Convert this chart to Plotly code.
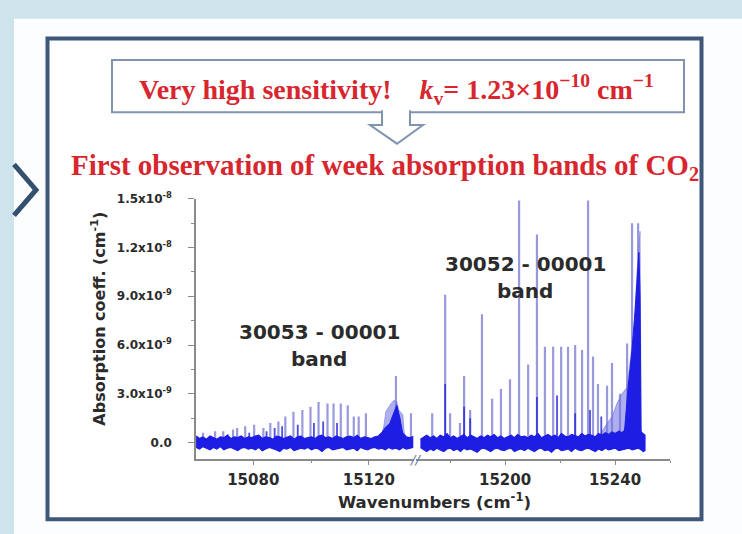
import plotly.graph_objects as go

W, H = 742, 534
SCALE = 1e-9  # spectrum values below are in units of 1e-9 cm^-1

# ---------------- spectrum data (wavenumber in cm^-1, value in 1e-9 cm^-1) ----------------
# 30053 - 00001 band (left segment)
left_peak_wn = [15062.6, 15066.8, 15069.6, 15073.0, 15074.4, 15077.2, 15080.3, 15083.5,
                15085.9, 15088.7, 15091.1, 15093.9, 15097.0, 15099.8, 15102.6, 15105.7,
                15107.8, 15110.3, 15112.7, 15114.8, 15116.5, 15119.0, 15129.4, 15134.6]
left_peak_h = [0.6, 0.7, 0.7, 0.8, 0.9, 1.0, 1.1, 0.9,
               1.2, 1.3, 1.6, 1.9, 2.0, 2.2, 2.5, 2.4,
               2.4, 2.4, 2.3, 1.6, 1.6, 1.8, 4.1, 1.8]
left_minor_wn = [15071.2, 15078.6, 15084.6, 15087.4, 15090.0, 15095.4, 15101.0, 15104.2, 15109.0]
left_minor_h = [0.5, 0.6, 0.7, 0.9, 1.0, 1.1, 1.2, 1.3, 1.2]

left_head_wn = [15124.2, 15125.2, 15125.9, 15127.7, 15128.7, 15129.7, 15130.4, 15131.8, 15132.2, 15132.9]
left_head_h = [0.3, 1.0, 1.9, 2.4, 2.6, 2.5, 2.0, 1.7, 0.7, 0.2]
left_core_wn = [15126.3, 15127.3, 15128.7, 15129.7, 15130.8, 15131.8]
left_core_h = [0.3, 1.2, 1.8, 2.3, 1.5, 0.5]

left_base_wn = [15060.2, 15061.4, 15062.5, 15063.8, 15065.0, 15066.2, 15067.4, 15068.6,
                15069.8, 15071.0, 15072.3, 15073.5, 15074.6, 15075.8, 15077.0, 15078.3,
                15079.5, 15080.7, 15081.9, 15083.1, 15084.3, 15085.6, 15086.8, 15088.0,
                15089.2, 15090.4, 15091.6, 15092.9, 15094.1, 15095.3, 15096.5, 15097.7,
                15098.9, 15100.2, 15101.4, 15102.6, 15103.8, 15105.0, 15106.2, 15107.5,
                15108.7, 15109.9, 15111.1, 15112.3, 15113.5, 15114.8, 15116.0, 15117.2,
                15118.4, 15119.6, 15120.8, 15122.1, 15123.3, 15124.5, 15125.7, 15126.9,
                15128.1, 15129.4, 15130.6, 15131.8, 15133.0, 15134.1, 15135.2]
left_base_hi = [0.40, 0.25, 0.35, 0.20, 0.40, 0.30, 0.20, 0.35, 0.30, 0.45, 0.25, 0.35,
                0.30, 0.40, 0.25, 0.35, 0.30, 0.40, 0.45, 0.25, 0.35, 0.30, 0.20, 0.40,
                0.35, 0.25, 0.30, 0.40, 0.20, 0.35, 0.40, 0.25, 0.30, 0.35, 0.25, 0.40,
                0.45, 0.30, 0.35, 0.25, 0.40, 0.30, 0.25, 0.35, 0.40, 0.30, 0.45, 0.25,
                0.35, 0.30, 0.25, 0.35, 0.40, 0.60, 0.90, 1.10, 1.20, 1.00, 0.80, 0.60,
                0.35, 0.30, 0.35]
left_base_lo = [-0.30, -0.40, -0.25, -0.35, -0.45, -0.30, -0.40, -0.25, -0.45, -0.35, -0.30,
                -0.40, -0.50, -0.35, -0.30, -0.40, -0.35, -0.45, -0.30, -0.50, -0.40, -0.30,
                -0.35, -0.45, -0.55, -0.35, -0.40, -0.30, -0.50, -0.45, -0.35, -0.40, -0.30,
                -0.45, -0.35, -0.40, -0.55, -0.35, -0.30, -0.45, -0.40, -0.35, -0.30, -0.45,
                -0.40, -0.35, -0.50, -0.30, -0.40, -0.45, -0.35, -0.30, -0.40, -0.35, -0.45,
                -0.30, -0.40, -0.35, -0.45, -0.30, -0.40, -0.35, -0.30]

# 30052 - 00001 band (right segment)
right_peak_wn = [15173.5, 15178.2, 15180.0, 15183.6, 15185.1, 15187.3, 15191.6, 15195.3,
                 15198.5, 15201.8, 15205.1, 15208.4, 15211.6, 15214.5, 15217.5, 15220.4,
                 15222.9, 15225.5, 15228.0, 15230.2, 15232.0, 15233.8, 15237.1, 15238.9,
                 15241.8, 15244.4, 15246.2, 15248.4]
right_peak_h = [1.8, 9.1, 1.8, 1.2, 4.1, 2.0, 7.9, 2.7,
                3.3, 3.9, 14.9, 4.8, 12.8, 5.9, 5.9, 5.9,
                5.9, 6.0, 5.7, 14.9, 5.3, 3.6, 3.5, 4.9,
                3.0, 6.1, 13.5, 13.5]
right_minor_wn = [15178.2, 15185.1, 15187.3, 15211.6, 15218.9, 15225.5, 15230.9, 15235.0]
right_minor_h = [3.6, 2.2, 1.5, 2.8, 2.9, 1.8, 2.0, 1.6]

right_head_wn = [15233.8, 15236.4, 15238.9, 15240.7, 15242.5, 15244.4, 15245.5, 15246.9,
                 15248.0, 15249.1, 15249.5, 15249.8]
right_head_h = [0.3, 1.0, 1.6, 2.4, 3.0, 3.4, 5.0, 7.0, 10.5, 13.0, 1.0, 0.3]
right_core_wn = [15243.3, 15244.7, 15246.2, 15247.3, 15248.0, 15248.7, 15249.1, 15249.5]
right_core_h = [0.4, 3.3, 5.7, 8.1, 9.7, 11.7, 9.0, 0.5]

right_base_wn = [15169.2, 15170.4, 15171.5, 15172.8, 15174.0, 15175.2, 15176.4, 15177.7,
                 15178.9, 15180.1, 15181.3, 15182.6, 15183.8, 15185.0, 15186.2, 15187.5,
                 15188.7, 15189.9, 15191.1, 15192.4, 15193.6, 15194.8, 15196.0, 15197.3,
                 15198.5, 15199.7, 15200.9, 15202.2, 15203.4, 15204.6, 15205.8, 15207.1,
                 15208.3, 15209.5, 15210.7, 15212.0, 15213.2, 15214.4, 15215.6, 15216.9,
                 15218.1, 15219.3, 15220.5, 15221.8, 15223.0, 15224.2, 15225.4, 15226.7,
                 15227.9, 15229.1, 15230.3, 15231.6, 15232.8, 15234.0, 15235.2, 15236.5,
                 15237.7, 15238.9, 15240.1, 15241.4, 15242.6, 15243.8, 15245.0, 15246.3,
                 15247.5, 15248.5, 15249.5, 15250.2, 15250.9]
right_base_hi = [0.20, 0.35, 0.45, 0.30, 0.40, 0.25, 0.45, 0.35, 0.55, 0.30, 0.40, 0.25,
                 0.35, 0.50, 0.30, 0.45, 0.35, 0.25, 0.40, 0.30, 0.45, 0.35, 0.50, 0.30,
                 0.40, 0.25, 0.35, 0.45, 0.30, 0.50, 0.35, 0.40, 0.30, 0.45, 0.35, 0.55,
                 0.30, 0.40, 0.50, 0.35, 0.45, 0.30, 0.55, 0.40, 0.35, 0.50, 0.45, 0.35,
                 0.55, 0.40, 0.50, 0.45, 0.35, 0.55, 0.45, 0.60, 0.50, 0.65, 0.55, 0.70,
                 0.60, 0.80, 0.75, 0.90, 0.95, 0.80, 0.60, 0.50, 0.45]
right_base_lo = [-0.30, -0.45, -0.55, -0.40, -0.50, -0.35, -0.45, -0.55, -0.40, -0.35,
                 -0.50, -0.40, -0.55, -0.35, -0.45, -0.40, -0.50, -0.60, -0.40, -0.35,
                 -0.45, -0.55, -0.40, -0.35, -0.45, -0.50, -0.40, -0.35, -0.55, -0.45,
                 -0.40, -0.50, -0.35, -0.45, -0.55, -0.40, -0.35, -0.50, -0.45, -0.60,
                 -0.40, -0.35, -0.50, -0.45, -0.40, -0.55, -0.35, -0.45, -0.50, -0.40,
                 -0.35, -0.45, -0.55, -0.40, -0.50, -0.35, -0.45, -0.40, -0.35, -0.50,
                 -0.45, -0.40, -0.35, -0.45, -0.40, -0.35, -0.45, -0.55, -0.50]

# ---------------- axis ticks ----------------
y_tickvals = [0, 3e-9, 6e-9, 9e-9, 1.2e-8, 1.5e-8]
y_ticktext = ["0.0", "3.0x10<sup>-9</sup>", "6.0x10<sup>-9</sup>", "9.0x10<sup>-9</sup>",
              "1.2x10<sup>-8</sup>", "1.5x10<sup>-8</sup>"]
x_left_ticks = [15080, 15120]
x_right_ticks = [15200, 15240]

# ---------------- styling ----------------
RED = "#d8262e"
TXT = "#2b2b2b"
AXC = "#8a8a8a"
BLUE = "#1d1de4"
STICK = "rgba(100,100,205,0.66)"
STICK_CORE = "rgba(45,45,220,0.85)"
HEAD = "rgba(110,110,225,0.55)"
SANS = "DejaVu Sans"
SERIF = "Liberation Serif"
GAP = "\u00a0" * 4


def px(x):
    return x / W


def py(y):
    return 1 - y / H


def sticks(wn, h):
    xs, ys = [], []
    for w, v in zip(wn, h):
        xs += [w, w, None]
        ys += [0, v * SCALE, None]
    return xs, ys


def band(wn, hi, lo):
    xs = list(wn) + list(wn)[::-1]
    ys = [v * SCALE for v in hi] + [v * SCALE for v in lo][::-1]
    return xs, ys


def outline(wn, h):
    xs = [wn[0]] + list(wn) + [wn[-1]]
    ys = [0] + [v * SCALE for v in h] + [0]
    return xs, ys


fig = go.Figure()

for xa, pk_wn, pk_h, mn_wn, mn_h, hd_wn, hd_h, cr_wn, cr_h, b_wn, b_hi, b_lo in [
    ("x", left_peak_wn, left_peak_h, left_minor_wn, left_minor_h, left_head_wn, left_head_h,
     left_core_wn, left_core_h, left_base_wn, left_base_hi, left_base_lo),
    ("x2", right_peak_wn, right_peak_h, right_minor_wn, right_minor_h, right_head_wn, right_head_h,
     right_core_wn, right_core_h, right_base_wn, right_base_hi, right_base_lo),
]:
    sx, sy = sticks(pk_wn, pk_h)
    fig.add_trace(go.Scatter(x=sx, y=sy, xaxis=xa, yaxis="y", mode="lines",
                             line=dict(color=STICK, width=2.2), hoverinfo="skip"))
    hx, hy = outline(hd_wn, hd_h)
    fig.add_trace(go.Scatter(x=hx, y=hy, xaxis=xa, yaxis="y", mode="lines", fill="toself",
                             fillcolor=HEAD, line=dict(color=HEAD, width=1), hoverinfo="skip"))
    mx, my = sticks(mn_wn, mn_h)
    fig.add_trace(go.Scatter(x=mx, y=my, xaxis=xa, yaxis="y", mode="lines",
                             line=dict(color=STICK_CORE, width=1.8), hoverinfo="skip"))
    cx, cy = outline(cr_wn, cr_h)
    fig.add_trace(go.Scatter(x=cx, y=cy, xaxis=xa, yaxis="y", mode="lines", fill="toself",
                             fillcolor=BLUE, line=dict(color=BLUE, width=1), hoverinfo="skip"))
    bx, by = band(b_wn, b_hi, b_lo)
    fig.add_trace(go.Scatter(x=bx, y=by, xaxis=xa, yaxis="y", mode="lines", fill="toself",
                             fillcolor=BLUE, line=dict(color=BLUE, width=1.2), hoverinfo="skip"))

tickfont = dict(family=SANS, size=15, color=TXT, weight="bold")
common_x = dict(anchor="y", showline=True, linecolor=AXC, linewidth=1.5, ticks="outside",
                ticklen=4, tickcolor=AXC, tickwidth=1.2, showgrid=False, zeroline=False,
                tickfont=tickfont, ticklabelstandoff=2, tickformat="d",
                minor=dict(ticks="outside", ticklen=2, dtick=20, tickcolor=AXC, showgrid=False))

fig.update_layout(
    width=W, height=H, autosize=False,
    margin=dict(l=0, r=0, t=0, b=0),
    paper_bgcolor="#cfe3ec",
    plot_bgcolor="rgba(0,0,0,0)",
    showlegend=False,
    xaxis=dict(domain=[px(196), px(414)], range=[15060.17, 15135.65], tickvals=x_left_ticks,
               **common_x),
    xaxis2=dict(domain=[px(416), px(670)], range=[15167.6, 15260.0], tickvals=x_right_ticks,
                **common_x),
    yaxis=dict(domain=[py(458), py(193)], range=[-1.03e-9, 1.5e-8], anchor="x",
               tickvals=y_tickvals, ticktext=y_ticktext, showline=True, linecolor=AXC,
               linewidth=1.5, ticks="outside", ticklen=6, tickcolor=AXC, tickwidth=1.2,
               showgrid=False, zeroline=False, ticklabelstandoff=14,
               tickfont=dict(family=SANS, size=12, color=TXT, weight="bold"),
               minor=dict(ticks="outside", ticklen=3, dtick=1.5e-9, tickcolor=AXC)),
)

shapes = [
    # slide area
    dict(type="rect", xref="paper", yref="paper", x0=px(14), x1=1, y0=0, y1=py(10),
         fillcolor="#fbfdfe", line=dict(width=0), layer="below"),
    # outer framed panel
    dict(type="rect", xref="paper", yref="paper", x0=px(47.5), x1=px(701.5), y0=py(519),
         y1=py(30), fillcolor="white", line=dict(color="#3f5779", width=4), layer="below"),
    # chevron
    dict(type="path", xref="paper", yref="paper",
         path=f"M {px(14)},{py(158)} L {px(36)},{py(184)} L {px(14)},{py(210)}",
         line=dict(color="#34506f", width=5), layer="below"),
    # callout box
    dict(type="rect", xref="paper", yref="paper", x0=px(112), x1=px(684), y0=py(105),
         y1=py(52), fillcolor="white", line=dict(color="#8094ae", width=2), layer="below"),
    # hollow down arrow
    dict(type="path", xref="paper", yref="paper",
         path=(f"M {px(382)},{py(103)} L {px(382)},{py(118)} L {px(370)},{py(118)} "
               f"L {px(397)},{py(137)} L {px(423)},{py(118)} L {px(410)},{py(118)} "
               f"L {px(410)},{py(103)}"),
         fillcolor="white", line=dict(color="#8094ae", width=2), layer="below"),
]
fig.update_layout(shapes=shapes)

ann = [
    dict(x=px(396), y=py(82),
         text=("<b>Very high sensitivity!" + GAP +
               "<i>k</i><sub>v</sub>= 1.23×10<sup>−10</sup> cm<sup>−1</sup></b>"),
         font=dict(family=SERIF, size=28, color=RED)),
    dict(x=px(385), y=py(161),
         text="<b>First observation of week absorption bands of CO<sub>2</sub></b>",
         font=dict(family=SERIF, size=29, color=RED)),
    dict(x=px(319), y=py(329), text="<b>30053 - 00001</b>",
         font=dict(family=SANS, size=20, color=TXT)),
    dict(x=px(319), y=py(356), text="<b>band</b>", font=dict(family=SANS, size=20, color=TXT)),
    dict(x=px(525), y=py(259), text="<b>30052 - 00001</b>",
         font=dict(family=SANS, size=20, color=TXT)),
    dict(x=px(525), y=py(287), text="<b>band</b>", font=dict(family=SANS, size=20, color=TXT)),
    dict(x=px(99), y=py(315), text="<b>Absorption coeff. (cm<sup>-1</sup>)</b>", textangle=-90,
         font=dict(family=SANS, size=16, color=TXT)),
    dict(x=px(435), y=py(500), text="<b>Wavenumbers (cm<sup>-1</sup>)</b>",
         font=dict(family=SANS, size=16.5, color=TXT)),
    dict(x=px(415), y=py(458), text="<i>//</i>", font=dict(family=SANS, size=13, color="#6b76a8")),
]
for a in ann:
    a.update(xref="paper", yref="paper", showarrow=False, xanchor="center", yanchor="middle")
fig.update_layout(annotations=ann)

fig.write_html("out.html")
